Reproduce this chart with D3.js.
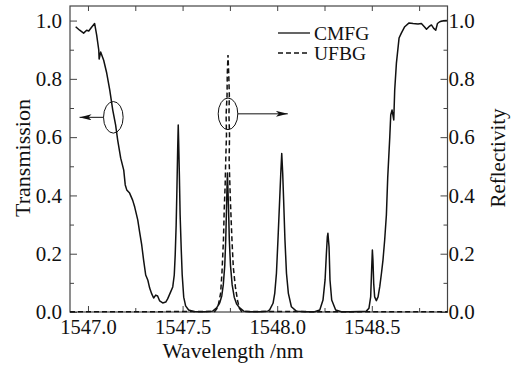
<!DOCTYPE html>
<html>
<head>
<meta charset="utf-8">
<script src="https://cdn.jsdelivr.net/npm/d3@7"></script>
<style>
  body { margin: 0; background: #fff; }
  svg { display: block; }
  text { font-family: "Liberation Serif", "Times New Roman", serif; fill: #111; }
</style>
</head>
<body>
<div id="chart"></div>
<script>
// CMFG transmission spectrum, [wavelength nm, value]
const cmfg = [
  [1546.935,0.979],[1546.956,0.967],[1546.977,0.957],[1546.993,0.967],[1547.004,0.964],
  [1547.020,0.978],[1547.035,0.990],[1547.046,0.950],[1547.057,0.899],[1547.059,0.868],
  [1547.067,0.892],[1547.083,0.864],[1547.099,0.820],[1547.115,0.762],[1547.131,0.693],
  [1547.146,0.642],[1547.157,0.590],[1547.173,0.528],[1547.189,0.487],[1547.197,0.436],
  [1547.205,0.419],[1547.220,0.408],[1547.236,0.384],[1547.247,0.360],[1547.263,0.316],
  [1547.273,0.274],[1547.284,0.230],[1547.294,0.178],[1547.305,0.127],[1547.316,0.110],
  [1547.326,0.082],[1547.337,0.062],[1547.347,0.048],[1547.358,0.058],[1547.368,0.055],
  [1547.379,0.038],[1547.395,0.031],[1547.411,0.034],[1547.421,0.045],[1547.437,0.069],
  [1547.448,0.086],[1547.456,0.127],[1547.461,0.196],[1547.466,0.298],[1547.470,0.419],
  [1547.474,0.556],[1547.477,0.642],[1547.479,0.590],[1547.483,0.470],[1547.487,0.333],
  [1547.493,0.213],[1547.498,0.127],[1547.506,0.051],[1547.516,0.021],[1547.532,0.007],
  [1547.559,0.002],[1547.590,0.001],[1547.617,0.001],[1547.659,0.003],[1547.680,0.014],
  [1547.696,0.031],[1547.707,0.055],[1547.715,0.093],[1547.723,0.161],[1547.728,0.247],
  [1547.732,0.350],[1547.735,0.436],[1547.737,0.477],[1547.739,0.436],[1547.743,0.350],
  [1547.747,0.247],[1547.753,0.161],[1547.762,0.093],[1547.773,0.051],[1547.786,0.027],
  [1547.802,0.014],[1547.823,0.003],[1547.855,0.001],[1547.908,0.001],[1547.950,0.003],
  [1547.960,0.007],[1547.978,0.030],[1547.987,0.064],[1547.996,0.133],[1548.004,0.247],
  [1548.013,0.384],[1548.019,0.477],[1548.024,0.544],[1548.029,0.477],[1548.034,0.384],
  [1548.041,0.247],[1548.049,0.133],[1548.059,0.064],[1548.075,0.018],[1548.101,0.003],
  [1548.145,0.001],[1548.198,0.001],[1548.225,0.007],[1548.242,0.041],[1548.253,0.110],
  [1548.260,0.201],[1548.265,0.258],[1548.268,0.270],[1548.274,0.224],[1548.279,0.110],
  [1548.288,0.041],[1548.309,0.007],[1548.339,0.001],[1548.383,0.001],[1548.436,0.002],
  [1548.471,0.003],[1548.485,0.013],[1548.494,0.052],[1548.499,0.144],[1548.503,0.213],
  [1548.506,0.178],[1548.510,0.098],[1548.515,0.052],[1548.524,0.039],[1548.533,0.052],
  [1548.542,0.087],[1548.551,0.133],[1548.559,0.178],[1548.568,0.247],[1548.577,0.333],
  [1548.584,0.460],[1548.595,0.601],[1548.600,0.676],[1548.607,0.693],[1548.616,0.659],
  [1548.621,0.762],[1548.630,0.854],[1548.644,0.940],[1548.656,0.957],[1548.674,0.979],
  [1548.697,0.992],[1548.718,0.990],[1548.744,0.988],[1548.762,0.990],[1548.780,0.977],
  [1548.789,0.970],[1548.802,0.979],[1548.815,0.985],[1548.827,0.973],[1548.838,0.967],
  [1548.847,0.990],[1548.859,0.996],[1548.876,0.999],[1548.897,1.000]
];

// UFBG reflection spectrum, [wavelength nm, value]
const ufbg = [
  [1546.905,0.001],[1547.300,0.001],[1547.670,0.002],[1547.687,0.017],[1547.701,0.065],
  [1547.708,0.134],[1547.716,0.247],[1547.720,0.350],[1547.725,0.436],[1547.728,0.521],
  [1547.732,0.607],[1547.730,0.676],[1547.735,0.744],[1547.736,0.813],[1547.740,0.882],
  [1547.744,0.813],[1547.747,0.744],[1547.745,0.676],[1547.748,0.607],[1547.746,0.521],
  [1547.750,0.436],[1547.754,0.360],[1547.761,0.247],[1547.768,0.154],[1547.779,0.086],
  [1547.790,0.041],[1547.800,0.013],[1547.812,0.002],[1548.300,0.001],[1548.900,0.001]
];

const seriesNames = ["CMFG", "UFBG"];
const xTicks = [1547.0, 1547.5, 1548.0, 1548.5];
const xMinor = [1547.25, 1547.75, 1548.25, 1548.75];
const yTicks = [0, 0.2, 0.4, 0.6, 0.8, 1.0];
const yMinor = [0.1, 0.3, 0.5, 0.7, 0.9];

let margin = {top: 6, right: 70.5, bottom: 53, left: 70},
    width = 518 - margin.left - margin.right,
    height = 365 - margin.top - margin.bottom;

const svg = d3.select("#chart")
    .append("svg")
    .attr("width", 518)
    .attr("height", 365);

const g = svg.append("g")
    .attr("transform", `translate(${margin.left},${margin.top})`);

let x = d3.scaleLinear().domain([1546.905, 1548.9]).range([0, width]);
let y = d3.scaleLinear().domain([0, 1.05]).range([height, 0]);

const axisColor = "#444";

function styleAxis(sel, fs) {
    sel.select(".domain").remove();
    sel.selectAll(".tick line").attr("stroke", axisColor).attr("stroke-width", 1);
    sel.selectAll(".tick text").style("font-size", fs + "px").attr("fill", "#111");
}

// major + minor ticks, all pointing inward
g.append("g").attr("transform", `translate(0,${height})`)
    .call(d3.axisBottom(x).tickValues(xTicks).tickFormat(d3.format(".1f")).tickSize(-6).tickPadding(7))
    .call(s => styleAxis(s, 20.5));
g.append("g").attr("transform", `translate(0,${height})`)
    .call(d3.axisBottom(x).tickValues(xMinor).tickFormat("").tickSize(-4))
    .call(s => styleAxis(s, 20));
g.append("g")
    .call(d3.axisTop(x).tickValues(xTicks.concat(xMinor)).tickFormat("").tickSize(-5))
    .call(s => styleAxis(s, 20));

g.append("g")
    .call(d3.axisLeft(y).tickValues(yTicks).tickFormat(d3.format(".1f")).tickSize(-7).tickPadding(8))
    .call(s => styleAxis(s, 21));
g.append("g")
    .call(d3.axisLeft(y).tickValues(yMinor).tickFormat("").tickSize(-4))
    .call(s => styleAxis(s, 21));
g.append("g").attr("transform", `translate(${width},0)`)
    .call(d3.axisRight(y).tickValues(yTicks).tickFormat(d3.format(".1f")).tickSize(-7).tickPadding(1))
    .call(s => styleAxis(s, 21));
g.append("g").attr("transform", `translate(${width},0)`)
    .call(d3.axisRight(y).tickValues(yMinor).tickFormat("").tickSize(-4))
    .call(s => styleAxis(s, 21));

g.append("rect")
    .attr("width", width).attr("height", height)
    .attr("fill", "none").attr("stroke", axisColor).attr("stroke-width", 1.2);

let line = d3.line()
    .x(d => x(d[0]))
    .y(d => y(d[1]));

g.append("path").datum(ufbg)
    .attr("d", line)
    .attr("fill", "none").attr("stroke", "#111")
    .attr("stroke-width", 1.5).attr("stroke-dasharray", "5,3");

g.append("path").datum(cmfg)
    .attr("d", line)
    .attr("fill", "none").attr("stroke", "#111")
    .attr("stroke-width", 1.5).attr("stroke-linejoin", "round");

// legend
const legend = g.append("g").attr("transform", "translate(208,27)");
seriesNames.forEach((name, i) => {
    legend.append("line")
        .attr("x1", 0).attr("x2", 32)
        .attr("y1", i * 20).attr("y2", i * 20)
        .attr("stroke", "#111").attr("stroke-width", 1.3)
        .attr("stroke-dasharray", i ? "5,3" : null);
    legend.append("text")
        .attr("x", 36).attr("y", i * 20 + 7)
        .style("font-size", "19.5px")
        .text(name);
});

// ellipses with arrows pointing to the matching axis
svg.append("defs").append("marker")
    .attr("id", "arr").attr("viewBox", "0 0 12 6")
    .attr("refX", 12).attr("refY", 3)
    .attr("markerWidth", 12).attr("markerHeight", 6)
    .attr("markerUnits", "userSpaceOnUse").attr("orient", "auto")
    .append("path").attr("d", "M0,0 L12,3 L0,6 L3,3 Z").attr("fill", "#111");

const notes = [
    {wl: 1547.134, v: 0.668, dir: -1, len: 24},
    {wl: 1547.740, v: 0.680, dir: 1, len: 50}
];
notes.forEach(n => {
    let cx = x(n.wl), cy = y(n.v);
    g.append("ellipse")
        .attr("cx", cx).attr("cy", cy).attr("rx", 9.8).attr("ry", 15.8)
        .attr("fill", "none").attr("stroke", "#111").attr("stroke-width", 1);
    g.append("line")
        .attr("x1", cx + n.dir * 9.8).attr("y1", cy)
        .attr("x2", cx + n.dir * (9.8 + n.len)).attr("y2", cy)
        .attr("stroke", "#111").attr("stroke-width", 1)
        .attr("marker-end", "url(#arr)");
});

// axis titles
svg.append("text")
    .attr("x", 233).attr("y", 358)
    .attr("text-anchor", "middle")
    .style("font-size", "21.5px")
    .text("Wavelength /nm");
svg.append("text")
    .attr("transform", "translate(30,158) rotate(-90)")
    .attr("text-anchor", "middle")
    .style("font-size", "22px")
    .text("Transmission");
svg.append("text")
    .attr("transform", "translate(505,158) rotate(-90)")
    .attr("text-anchor", "middle")
    .style("font-size", "21px")
    .text("Reflectivity");
</script>
</body>
</html>
